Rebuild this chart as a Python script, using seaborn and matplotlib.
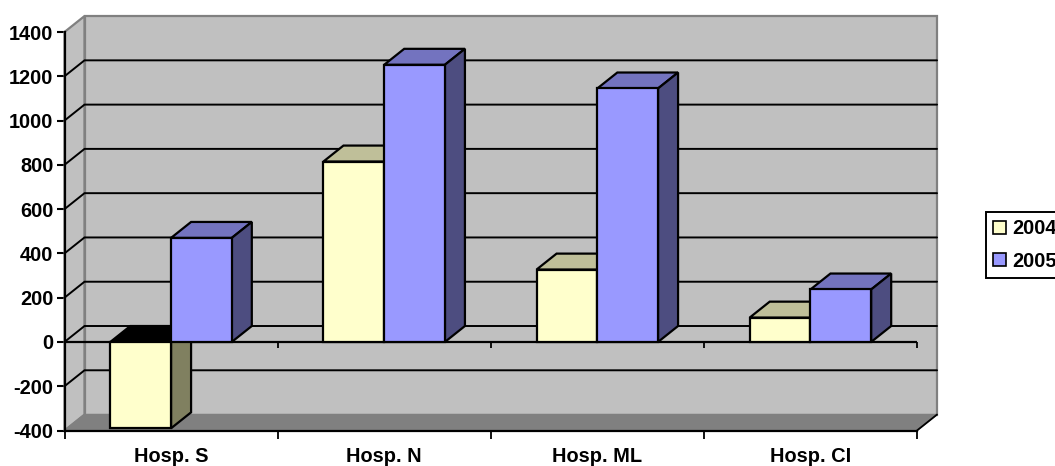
import matplotlib
matplotlib.use("Agg")
import matplotlib.pyplot as plt
from matplotlib.patches import Polygon, Patch
import pandas as pd
import seaborn as sns

hospitals = ["Hosp. S", "Hosp. N", "Hosp. ML", "Hosp. CI"]
years = ["2004", "2005"]
values_2004 = [-390, 815, 327, 110]
values_2005 = [470, 1252, 1145, 237]
y_ticks = [-400, -200, 0, 200, 400, 600, 800, 1000, 1200, 1400]

FACE = {"2004": "#FFFFCC", "2005": "#9999FF"}
TOP = {"2004": "#BFBF99", "2005": "#7373BF"}
SIDE = {"2004": "#808060", "2005": "#4D4D80"}
WALL = "#C0C0C0"
FLOOR = "#808080"
FONT = "Liberation Sans"
FS = 14.4

# depth of the box, in axis units
DX = 20 / 213
DY = 72

sns.set_theme(style="white")
plt.rcParams["font.family"] = [FONT, "DejaVu Sans"]
plt.rcParams["text.color"] = "black"

W, H = 1055, 466
fig = plt.figure(figsize=(W / 100, H / 100), dpi=100, facecolor="white")
ax = fig.add_axes([64.5 / W, 1 - 430.5 / H, 852.5 / W, 398.5 / H])
ax.patch.set_visible(False)

table = pd.DataFrame({
    "hospital": hospitals * 2,
    "year": [years[0]] * 4 + [years[1]] * 4,
    "value": values_2004 + values_2005,
})
sns.barplot(data=table, x="hospital", y="value", hue="year", hue_order=years,
            palette=FACE, width=0.57, gap=0, saturation=1, errorbar=None,
            edgecolor="black", linewidth=1.6, legend=False, ax=ax, zorder=10)

x0, x1 = -0.5, 3.5
y0, y1 = y_ticks[0], y_ticks[-1]
ax.set_xlim(x0, x1)
ax.set_ylim(y0, y1)


def poly(points, fc, ec="black", lw=1.6, z=1):
    ax.add_patch(Polygon(points, closed=True, facecolor=fc, edgecolor=ec,
                         linewidth=lw, zorder=z, clip_on=False, joinstyle="miter"))


# left wall, back wall and floor of the box
poly([(x0, y0), (x0, y1), (x0 + DX, y1 + DY), (x0 + DX, y0 + DY)], WALL, FLOOR, 1.6, 1)
poly([(x0 + DX, y0 + DY), (x0 + DX, y1 + DY), (x1 + DX, y1 + DY), (x1 + DX, y0 + DY)],
     WALL, FLOOR, 1.6, 1)
poly([(x0, y0), (x1, y0), (x1 + DX, y0 + DY), (x0 + DX, y0 + DY)], FLOOR, FLOOR, 1, 2)

# gridlines run along the back wall and fold forward over the left wall
for tick in y_ticks[1:-1]:
    ax.plot([x0, x0 + DX, x1 + DX], [tick, tick + DY, tick + DY], color="black",
            lw=1.4, zorder=3, clip_on=False, solid_joinstyle="miter")
ax.plot([x1, x1 + DX], [y0, y0 + DY], color="black", lw=1.3, zorder=3, clip_on=False)

# axis at zero with its category ticks
ax.plot([x0, x1], [0, 0], color="black", lw=1.6, zorder=4)
boundaries = [-0.5, 0.5, 1.5, 2.5, 3.5]
ax.vlines(boundaries[1:], -28, 0, color="black", lw=1.3, zorder=4, clip_on=False)

# each bar gets a top and a side face, later bars overlapping earlier ones
z = 5
for cat in range(len(hospitals)):
    for year, container in zip(years, ax.containers):
        bar = container[cat]
        left, right = bar.get_x(), bar.get_x() + bar.get_width()
        a, b = sorted((bar.get_y(), bar.get_y() + bar.get_height()))
        top_color = "black" if bar.get_height() < 0 else TOP[year]
        poly([(left, b), (left + DX, b + DY), (right + DX, b + DY), (right, b)], top_color, z=z)
        poly([(right, a), (right, b), (right + DX, b + DY), (right + DX, a + DY)], SIDE[year], z=z)
        bar.set_zorder(z + 0.5)
        z += 1

ax.set_yticks(y_ticks)
ax.set_yticklabels([str(t) for t in y_ticks], fontsize=FS, fontweight="bold", family=FONT,
                   color="black")
ax.set_xticks(boundaries)
ax.set_xticklabels([])
ax.set_xticks(range(len(hospitals)), labels=hospitals, minor=True,
              fontsize=FS, fontweight="bold", family=FONT, color="black")
ax.tick_params(axis="x", which="major", length=6, width=1.3, color="black", bottom=True)
ax.tick_params(axis="x", which="minor", length=0, pad=12, bottom=False)
ax.tick_params(axis="y", length=6, width=1.5, color="black", left=True, pad=2)
ax.set_xlabel("")
ax.set_ylabel("")
for side in ("top", "right"):
    ax.spines[side].set_visible(False)
for side in ("left", "bottom"):
    ax.spines[side].set_color("black")
    ax.spines[side].set_linewidth(1.6)
    ax.spines[side].set_zorder(40)

handles = [Patch(facecolor=FACE[y], edgecolor="black", linewidth=1.2, label=y) for y in years]
legend = ax.legend(handles=handles, loc="upper left",
                   bbox_to_anchor=(986 / W, 1 - 212 / H), bbox_transform=fig.transFigure,
                   prop={"family": FONT, "weight": "bold", "size": FS},
                   frameon=True, fancybox=False, framealpha=1, edgecolor="black",
                   borderaxespad=0, borderpad=0.36, handlelength=0.64, handleheight=0.64,
                   handletextpad=0.3, labelspacing=0.68)
legend.get_frame().set_linewidth(1.4)

fig.savefig("out.png", dpi=100, facecolor="white")
